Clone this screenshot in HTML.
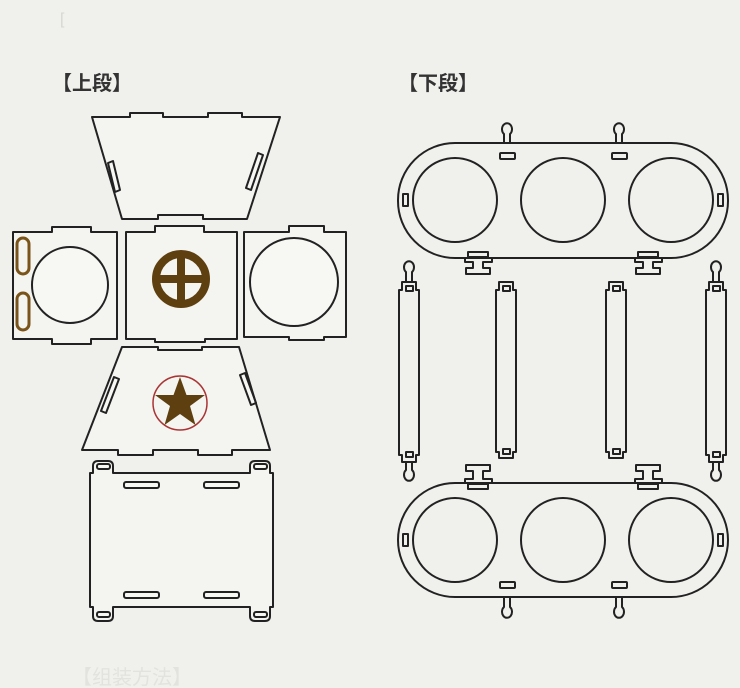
<!DOCTYPE html>
<html><head><meta charset="utf-8"><style>
html,body{margin:0;padding:0;background:#f0f1ec;}
svg{display:block;}
</style></head><body>
<svg width="740" height="688" viewBox="0 0 740 688" xmlns="http://www.w3.org/2000/svg">
<rect width="740" height="688" fill="#f0f1ec"/>
<text x="60" y="24" font-family="Liberation Sans, sans-serif" font-size="16" fill="#d6d6d2">[</text>
<text x="52" y="90" font-family="Liberation Sans, 'Noto Sans CJK JP', sans-serif" font-size="20" font-weight="bold" fill="#333">【上段】</text>
<text x="398" y="90" font-family="Liberation Sans, 'Noto Sans CJK JP', sans-serif" font-size="20" font-weight="bold" fill="#333">【下段】</text>
<text x="72" y="684" font-family="Liberation Sans, 'Noto Sans CJK JP', sans-serif" font-size="20" fill="#e2e3de">【组装方法】</text>

<g fill="#fff" fill-opacity="0.25" stroke="#222" stroke-width="2" stroke-linejoin="round">
<!-- top trapezoid -->
<path d="M92,117 L130,117 L130,113 L163,113 L163,117 L208,117 L208,113 L242,113 L242,117 L280,117 L247,219 L203,219 L203,215 L158,215 L158,219 L122,219 Z"/>
<path d="M108,163 L113,161 L120,190 L115,192 Z"/>
<path d="M258,153 L263,155 L251,190 L246,188 Z"/>
<!-- left panel -->
<path d="M13,232 L52,232 L52,227 L91,227 L91,232 L117,232 L117,339 L91,339 L91,344 L52,344 L52,339 L13,339 Z"/>
<circle cx="70" cy="285" r="38"/>
<!-- center panel -->
<path d="M126,232 L155,232 L155,226 L204,226 L204,232 L237,232 L237,339 L205,339 L205,342 L155,342 L155,339 L126,339 Z"/>
<!-- right panel -->
<path d="M244,232 L289,232 L289,226 L324,226 L324,232 L346,232 L346,337 L324,337 L324,340 L289,340 L289,337 L244,337 Z"/>
<circle cx="294" cy="282" r="44"/>
<!-- lower trapezoid -->
<path d="M122,347 L158,347 L158,350 L202,350 L202,347 L239,347 L270,450 L232,450 L232,455 L198,455 L198,450 L153,450 L153,455 L118,455 L118,450 L82,450 Z"/>
<path d="M114,377 L119,379 L106,413 L101,411 Z"/>
<path d="M240,375 L245,373 L256,403 L251,405 Z"/>
<!-- bottom box -->
<path d="M90,473 L93,473 L93,466 Q93,461 98,461 L108,461 Q113,461 113,466 L113,473 L250,473 L250,466 Q250,461 255,461 L265,461 Q270,461 270,466 L270,473 L273,473 L273,607 L270,607 L270,616 Q270,621 265,621 L255,621 Q250,621 250,616 L250,607 L113,607 L113,616 Q113,621 108,621 L98,621 Q93,621 93,616 L93,607 L90,607 Z"/>
<rect x="97" y="464" width="13" height="5" rx="2"/>
<rect x="254" y="464" width="13" height="5" rx="2"/>
<rect x="97" y="612" width="13" height="5" rx="2"/>
<rect x="254" y="612" width="13" height="5" rx="2"/>
<rect x="124" y="482" width="35" height="6" rx="2"/>
<rect x="204" y="482" width="35" height="6" rx="2"/>
<rect x="124" y="592" width="35" height="6" rx="2"/>
<rect x="204" y="592" width="35" height="6" rx="2"/>
</g>

<!-- brown ovals -->
<g fill="none" stroke="#7a5418" stroke-width="3">
<rect x="17" y="238" width="12" height="36" rx="6"/>
<rect x="17" y="293" width="12" height="37" rx="6"/>
</g>
<!-- crosshair -->
<circle cx="181" cy="279" r="25" fill="none" stroke="#5e3f10" stroke-width="8"/>
<rect x="177" y="252" width="8" height="54" fill="#5e3f10"/>
<rect x="154" y="275" width="54" height="8" fill="#5e3f10"/>
<!-- star -->
<circle cx="180" cy="403" r="27" fill="none" stroke="#a33" stroke-width="1.5"/>
<polygon fill="#5e3f10" points="180,377 186.5,395 205,395 190,406 195.5,425 180,414 164.5,425 170,406 155,395 173.5,395"/>

<g fill="none" stroke="#222" stroke-width="2" stroke-linejoin="round">
<!-- top ring -->
<rect x="398" y="143" width="330" height="115" rx="57"/>
<circle cx="455" cy="200" r="42"/><circle cx="563" cy="200" r="42"/><circle cx="671" cy="200" r="42"/>
<rect x="500" y="153" width="15" height="6" rx="1"/><rect x="612" y="153" width="15" height="6" rx="1"/>
<rect x="403" y="194" width="5" height="12"/><rect x="718" y="194" width="5" height="12"/>
<path d="M504,143 L504,134 A5,6 0 1 1 510,134 L510,143"/>
<path d="M616,143 L616,134 A5,6 0 1 1 622,134 L622,143"/>
<path d="M465,258 L465,262 L473,262 L473,268 L466,268 L466,274 L490,274 L490,268 L483,268 L483,262 L492,262 L492,258"/>
<rect x="468" y="252" width="20" height="5"/>
<path d="M635,258 L635,262 L643,262 L643,268 L636,268 L636,274 L660,274 L660,268 L653,268 L653,262 L662,262 L662,258"/>
<rect x="638" y="252" width="20" height="5"/>
<!-- straps -->
<path d="M402,282 L416,282 L416,290 L419,290 L419,455 L416,455 L416,462 L402,462 L402,455 L399,455 L399,290 L402,290 Z"/>
<rect x="406" y="286" width="7" height="5"/><rect x="406" y="452" width="7" height="5"/>
<path d="M406,282 L406,272 A5,6 0 1 1 412,272 L412,282"/>
<path d="M406,462 L406,470 A5,6 0 1 0 412,470 L412,462"/>
<path d="M499,282 L513,282 L513,290 L516,290 L516,452 L513,452 L513,458 L499,458 L499,452 L496,452 L496,290 L499,290 Z"/>
<rect x="503" y="286" width="7" height="5"/><rect x="503" y="449" width="7" height="5"/>
<path d="M609,282 L623,282 L623,290 L626,290 L626,452 L623,452 L623,458 L609,458 L609,452 L606,452 L606,290 L609,290 Z"/>
<rect x="613" y="286" width="7" height="5"/><rect x="613" y="449" width="7" height="5"/>
<path d="M709,282 L723,282 L723,290 L726,290 L726,455 L723,455 L723,462 L709,462 L709,455 L706,455 L706,290 L709,290 Z"/>
<rect x="713" y="286" width="7" height="5"/><rect x="713" y="452" width="7" height="5"/>
<path d="M713,282 L713,272 A5,6 0 1 1 719,272 L719,282"/>
<path d="M713,462 L713,470 A5,6 0 1 0 719,470 L719,462"/>
<!-- bottom ring -->
<rect x="398" y="483" width="330" height="114" rx="57"/>
<circle cx="455" cy="540" r="42"/><circle cx="563" cy="540" r="42"/><circle cx="671" cy="540" r="42"/>
<rect x="500" y="582" width="15" height="6" rx="1"/><rect x="612" y="582" width="15" height="6" rx="1"/>
<rect x="403" y="534" width="5" height="12"/><rect x="718" y="534" width="5" height="12"/>
<path d="M504,597 L504,607 A5,6 0 1 0 510,607 L510,597"/>
<path d="M616,597 L616,607 A5,6 0 1 0 622,607 L622,597"/>
<path d="M465,483 L465,479 L473,479 L473,471 L466,471 L466,465 L490,465 L490,471 L483,471 L483,479 L492,479 L492,483"/>
<rect x="468" y="484" width="20" height="5"/>
<path d="M635,483 L635,479 L643,479 L643,471 L636,471 L636,465 L660,465 L660,471 L653,471 L653,479 L662,479 L662,483"/>
<rect x="638" y="484" width="20" height="5"/>
</g>
</svg>
</body></html>
